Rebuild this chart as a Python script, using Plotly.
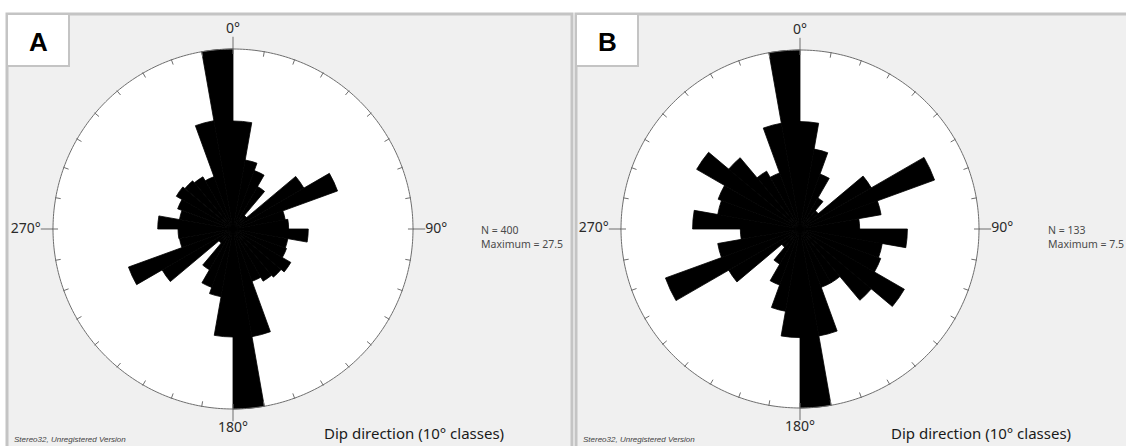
import plotly.graph_objects as go

# ---------------- data ----------------
bin_centers = [5 + 10 * i for i in range(36)]   # 10° classes, dip direction

values_A = [16.5, 10.7, 9.5, 7.5, 2.7, 12.5, 17.0, 8.1, 8.5, 11.5, 8.5, 8.7,
            10.2, 9.6, 9.2, 8.5, 16.7, 27.5, 16.5, 10.5, 9.5, 7.2, 2.8, 12.5,
            17.0, 8.3, 8.4, 11.5, 8.3, 9.0, 10.0, 9.6, 9.2, 8.5, 16.8, 27.5]

values_B = [4.5, 3.4, 2.45, 1.5, 1.0, 3.45, 6.0, 3.45, 2.5, 4.5, 3.5, 3.6,
            5.05, 3.9, 2.6, 2.6, 4.55, 7.5, 4.55, 3.5, 2.5, 1.7, 1.0, 3.45,
            6.0, 3.5, 2.5, 4.5, 3.5, 3.65, 5.0, 3.9, 2.8, 2.5, 4.5, 7.5]

n_A, max_A = 400, 27.5
n_B, max_B = 133, 7.5
panel_labels = ["A", "B"]
cardinal_angles = [0, 90, 180, 270]
cardinal_text = ["0°", "90°", "180°", "270°"]
tick_angles = list(range(0, 360, 10))
axis_title = "Dip direction (10° classes)"
credit = "Stereo32, Unregistered Version"

# ---------------- layout helpers ----------------
W, H = 1126, 446
EXT = 1.2   # radial range extends past the outer circle so labels can be drawn

def px(x):
    return x / W

def py(y):
    return (H - y) / H

fig = go.Figure()

panels = [
    dict(vals=values_A, mx=max_A, n=n_A, cx=233, cy=229, R=180, sub="polar", left=7, right=572),
    dict(vals=values_B, mx=max_B, n=n_B, cx=800, cy=229, R=179, sub="polar2", left=576, right=1135),
]

label_pos = ["top center", "middle right", "bottom center", "middle left"]
shapes = []
annotations = []
GRAY = "#6e6e6e"

for k, p in enumerate(panels):
    mx = p["mx"]
    sub = p["sub"]
    fig.add_trace(go.Barpolar(
        r=p["vals"], theta=bin_centers, width=[10] * 36,
        marker=dict(color="black", line=dict(width=0.8, color="black")),
        subplot=sub, hoverinfo="skip", showlegend=False,
    ))
    # outer circle (= maximum)
    circ_theta = list(range(0, 361))
    fig.add_trace(go.Scatterpolar(
        r=[mx] * len(circ_theta), theta=circ_theta, mode="lines",
        line=dict(color=GRAY, width=1),
        subplot=sub, hoverinfo="skip", showlegend=False,
    ))
    # small ticks every 10° and long cardinal ticks
    rr, tt = [], []
    for a in tick_angles:
        rr += [mx * 0.972, mx * 1.004, None]
        tt += [a, a, None]
    for a in cardinal_angles:
        rr += [mx, mx * 1.068, None]
        tt += [a, a, None]
    fig.add_trace(go.Scatterpolar(
        r=rr, theta=tt, mode="lines", line=dict(color=GRAY, width=1),
        subplot=sub, hoverinfo="skip", showlegend=False,
    ))
    fig.add_trace(go.Scatterpolar(
        r=[mx * 1.068] * 4, theta=cardinal_angles, mode="text",
        text=cardinal_text, textposition=label_pos,
        textfont=dict(family="Noto Sans", size=14, color="#2a2a2a"),
        subplot=sub, hoverinfo="skip", showlegend=False,
    ))

    # panel background
    shapes.append(dict(type="rect", xref="paper", yref="paper",
                       x0=px(p["left"]), x1=px(p["right"]), y0=py(460), y1=py(14),
                       fillcolor="#f0f0f0", line=dict(color="#c4c4c4", width=3),
                       layer="below"))
    # white disc behind the rose
    shapes.append(dict(type="circle", xref="paper", yref="paper",
                       x0=px(p["cx"] - p["R"]), x1=px(p["cx"] + p["R"]),
                       y0=py(p["cy"] + p["R"]), y1=py(p["cy"] - p["R"]),
                       fillcolor="white", line=dict(width=0), layer="below"))
    # letter box
    shapes.append(dict(type="rect", xref="paper", yref="paper",
                       x0=px(p["left"]), x1=px(p["left"] + 62), y0=py(66), y1=py(14),
                       fillcolor="white", line=dict(color="#c4c4c4", width=2),
                       layer="below"))
    annotations.append(dict(text="<b>%s</b>" % panel_labels[k], xref="paper", yref="paper",
                            x=px(p["left"] + 31), y=py(42), showarrow=False,
                            xanchor="center", yanchor="middle",
                            font=dict(family="Liberation Sans", size=26, color="black")))
    # stats text
    annotations.append(dict(text="N = %d<br>Maximum = %s" % (p["n"], p["mx"]),
                            xref="paper", yref="paper",
                            x=px(p["cx"] + 246), y=py(237), showarrow=False,
                            xanchor="left", yanchor="middle", align="left",
                            font=dict(family="Noto Sans", size=10.5, color="#4a4a4a")))
    annotations.append(dict(text=axis_title, xref="paper", yref="paper",
                            x=px(p["cx"] + 89), y=py(433), showarrow=False,
                            xanchor="left", yanchor="middle",
                            font=dict(family="Noto Sans", size=15, color="#1a1a1a")))
    annotations.append(dict(text="<i>%s</i>" % credit, xref="paper", yref="paper",
                            x=px(p["left"] + 5), y=py(439), showarrow=False,
                            xanchor="left", yanchor="middle",
                            font=dict(family="Liberation Sans", size=8, color="#444444")))

    Rd = p["R"] * EXT
    polar_cfg = dict(
        domain=dict(x=[px(p["cx"] - Rd), px(p["cx"] + Rd)],
                    y=[py(p["cy"] + Rd), py(p["cy"] - Rd)]),
        bgcolor="rgba(0,0,0,0)",
        radialaxis=dict(visible=False, range=[0, mx * EXT]),
        angularaxis=dict(visible=False, direction="clockwise", rotation=90),
        bargap=0,
    )
    fig.update_layout(**{sub: polar_cfg})

fig.update_layout(
    width=W, height=H, margin=dict(l=0, r=0, t=0, b=0),
    paper_bgcolor="white", plot_bgcolor="white",
    shapes=shapes, annotations=annotations, showlegend=False,
)

fig.write_html("out.html", config={"displayModeBar": False},
               post_script="document.body.style.margin='0';document.body.style.overflow='hidden';")
